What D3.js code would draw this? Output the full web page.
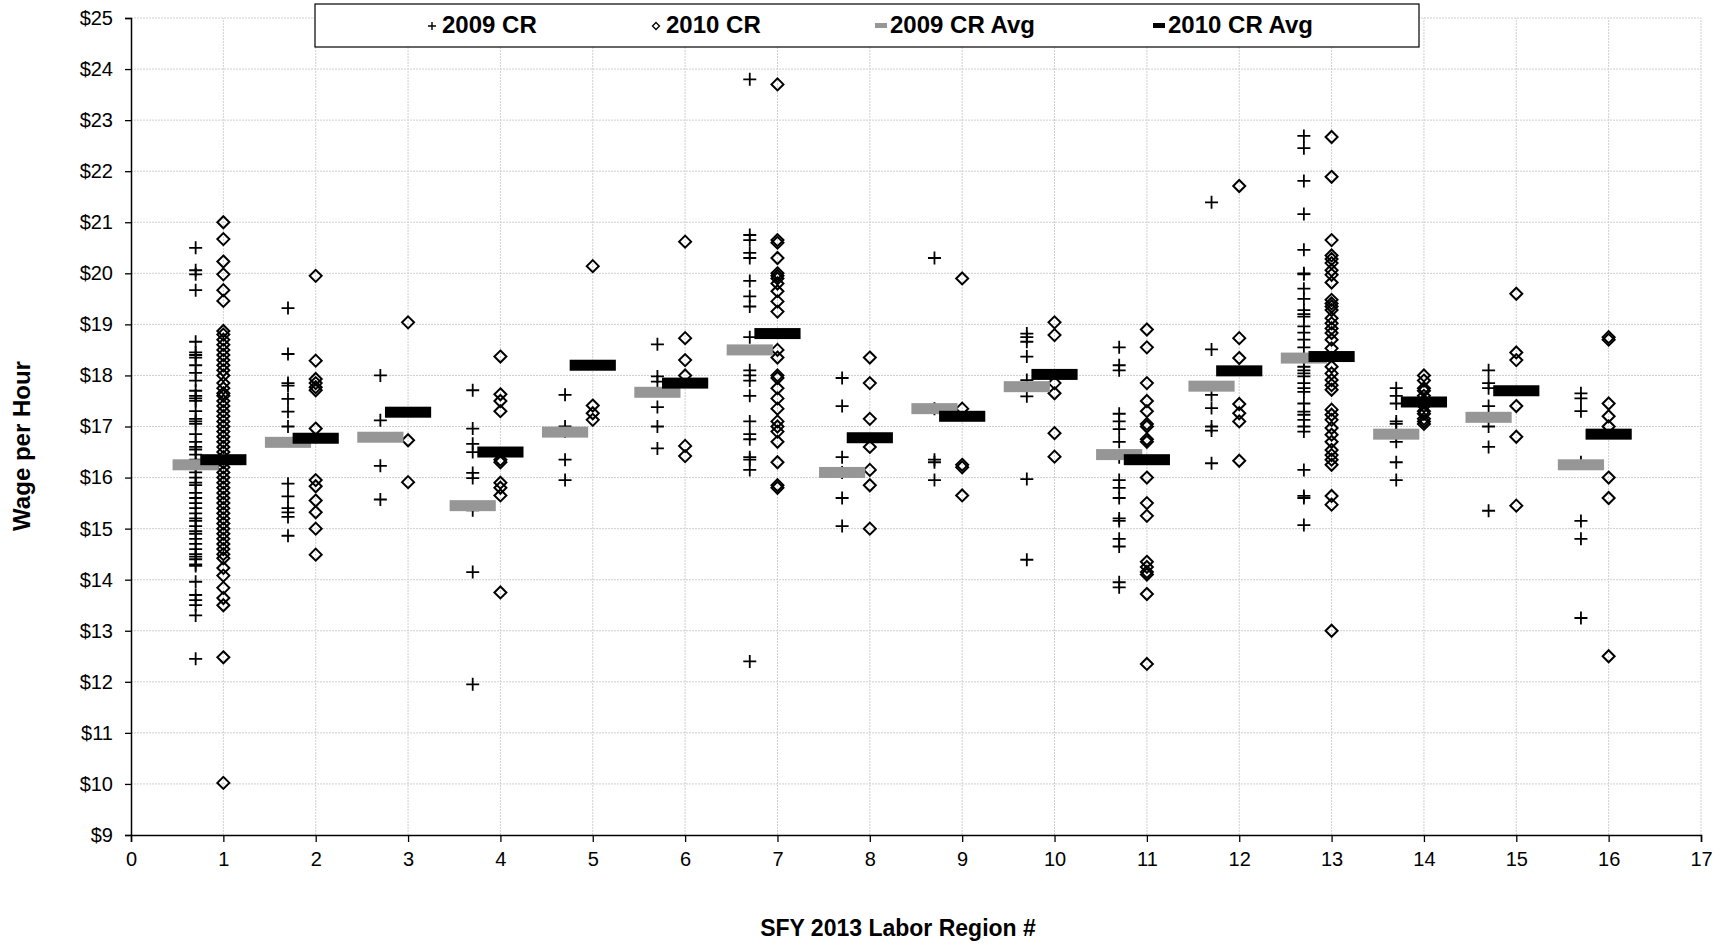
<!DOCTYPE html>
<html>
<head>
<meta charset="utf-8">
<style>
  body { margin: 0; background: #fff; }
  svg text { font-family: Arial, "Liberation Sans", sans-serif; fill: #000; }
</style>
</head>
<body>
<div id="viz"></div>
<script src="https://d3js.org/d3.v7.min.js"></script>
<script>

// regions 1..16, 2009 points sit 0.3 to the left of the region
const regions = d3.range(1, 17);

const cr2009 = [
  [20.5, 20.06, 19.98, 19.67, 18.66, 18.45, 18.4, 18.35, 18.2, 18.05, 17.9, 17.7, 17.6, 17.55, 17.5, 17.3, 17.15, 17.1, 17.05, 16.85, 16.7, 16.6, 16.55, 16.45, 16.35, 16.25, 16.1, 16.0, 15.9, 15.85, 15.7, 15.6, 15.5, 15.4, 15.3, 15.2, 15.15, 15.05, 14.95, 14.9, 14.8, 14.7, 14.6, 14.5, 14.45, 14.4, 14.3, 14.27, 13.96, 13.7, 13.6, 13.5, 13.3, 12.45],
  [19.32, 18.42, 17.85, 17.8, 17.54, 17.29, 17.0, 15.88, 15.63, 15.4, 15.32, 15.23, 14.86],
  [18.0, 17.12, 16.23, 15.57],
  [17.71, 16.96, 16.66, 16.5, 16.09, 15.99, 15.36, 14.15, 11.95],
  [17.62, 17.0, 16.9, 16.35, 15.95],
  [18.61, 17.98, 17.88, 17.38, 17.0, 16.57],
  [23.8, 20.75, 20.65, 20.4, 20.3, 19.85, 19.55, 19.35, 18.75, 18.1, 18.0, 17.9, 17.6, 17.1, 16.85, 16.75, 16.4, 16.35, 16.15, 12.4],
  [17.95, 17.4, 16.4, 16.1, 15.6, 15.05],
  [20.3, 17.35, 16.35, 16.3, 15.95],
  [18.82, 18.75, 18.66, 18.37, 17.91, 17.59, 15.97, 14.39],
  [18.55, 18.2, 18.1, 17.25, 17.1, 16.95, 16.7, 16.4, 15.95, 15.8, 15.6, 15.2, 15.15, 14.8, 14.65, 13.95, 13.85],
  [21.39, 18.51, 17.62, 17.36, 17.0, 16.92, 16.28],
  [22.69, 22.45, 21.81, 21.16, 20.46, 20.0, 19.98, 19.7, 19.5, 19.28, 19.2, 19.15, 18.96, 18.84, 18.7, 18.55, 18.17, 18.1, 18.04, 17.98, 17.85, 17.75, 17.68, 17.45, 17.29, 17.23, 17.13, 17.0, 16.9, 16.15, 15.64, 15.6, 15.07],
  [17.75, 17.6, 17.45, 17.1, 17.05, 16.85, 16.7, 16.3, 15.95],
  [18.1, 17.85, 17.75, 17.4, 17.0, 16.6, 15.35],
  [17.65, 17.55, 17.3, 16.3, 15.15, 14.8, 13.25]
];

const cr2010 = [
  [21.0, 20.67, 20.23, 19.98, 19.67, 19.46, 18.87, 18.8, 18.7, 18.6, 18.5, 18.4, 18.3, 18.2, 18.1, 18.0, 17.85, 17.75, 17.65, 17.6, 17.5, 17.4, 17.3, 17.2, 17.1, 17.0, 16.9, 16.8, 16.7, 16.6, 16.5, 16.4, 16.3, 16.2, 16.1, 16.0, 15.9, 15.8, 15.7, 15.6, 15.5, 15.4, 15.3, 15.2, 15.1, 15.0, 14.9, 14.8, 14.7, 14.6, 14.5, 14.42, 14.23, 14.08, 13.84, 13.64, 13.5, 12.48, 10.02],
  [19.95, 18.29, 17.93, 17.85, 17.77, 17.71, 16.96, 15.95, 15.83, 15.55, 15.32, 15.0, 14.49],
  [19.04, 16.73, 15.91],
  [18.37, 17.63, 17.5, 17.3, 16.35, 16.3, 15.9, 15.8, 15.65, 13.75],
  [20.14, 17.41, 17.26, 17.13],
  [20.62, 18.73, 18.3, 18.0, 16.62, 16.42],
  [23.7, 20.65, 20.6, 20.3, 20.0, 19.95, 19.9, 19.8, 19.65, 19.45, 19.25, 18.5, 18.35, 18.0, 17.95, 17.75, 17.55, 17.35, 17.1, 17.0, 16.9, 16.7, 16.3, 15.85, 15.8],
  [18.35, 17.85, 17.15, 16.6, 16.15, 15.85, 15.0],
  [19.9, 17.35, 16.25, 16.2, 15.65],
  [19.04, 18.79, 17.85, 17.65, 16.87, 16.41],
  [18.9, 18.55, 17.85, 17.5, 17.3, 17.05, 17.0, 16.75, 16.7, 16.0, 15.5, 15.25, 14.35, 14.25, 14.15, 14.1, 13.72, 12.35],
  [21.71, 18.73, 18.34, 17.44, 17.26, 17.1, 16.33],
  [22.67, 21.89, 20.65, 20.35, 20.28, 20.2, 20.06, 19.97, 19.82, 19.48, 19.41, 19.35, 19.28, 19.12, 19.02, 18.92, 18.83, 18.7, 18.53, 18.17, 18.04, 17.91, 17.81, 17.72, 17.33, 17.23, 17.13, 16.97, 16.84, 16.7, 16.54, 16.44, 16.35, 16.25, 15.64, 15.47, 13.0],
  [18.0, 17.9, 17.75, 17.7, 17.6, 17.5, 17.4, 17.3, 17.25, 17.15, 17.1, 17.05],
  [19.6, 18.45, 18.3, 17.4, 16.8, 15.45],
  [18.75, 18.7, 17.45, 17.2, 17.0, 16.0, 15.6, 12.5]
];

const avg2009 = [16.25, 16.69, 16.79, 15.45, 16.89, 17.67, 18.5, 16.1, 17.35, 17.78, 16.45, 17.79, 18.34, 16.85, 17.18, 16.25];
const avg2010 = [16.35, 16.77, 17.28, 16.5, 18.2, 17.85, 18.82, 16.78, 17.2, 18.02, 16.35, 18.09, 18.37, 17.48, 17.7, 16.85];

const xTicks = d3.range(0, 18);
const yTicks = d3.range(9, 26);
const legendLabels = ["2009 CR", "2010 CR", "2009 CR Avg", "2010 CR Avg"];

const width = 1726,
      height = 946;

const svg = d3.select("#viz").append("svg")
    .attr("width", width)
    .attr("height", height);

const x = d3.scaleLinear().domain([0, 17]).range([131, 1701]),
      y = d3.scaleLinear().domain([9, 25]).range([835, 18]);

// gridlines
svg.append("g").selectAll("line")
    .data(xTicks.slice(1))
  .enter().append("line")
    .attr("x1", d => x(d)).attr("x2", d => x(d))
    .attr("y1", y(9)).attr("y2", y(25))
    .attr("stroke", "#cfcfcf")
    .attr("stroke-dasharray", "2,1");

svg.append("g").selectAll("line")
    .data(yTicks.slice(1))
  .enter().append("line")
    .attr("x1", x(0)).attr("x2", x(17))
    .attr("y1", d => y(d)).attr("y2", d => y(d))
    .attr("stroke", "#cfcfcf")
    .attr("stroke-dasharray", "2,1");

// axes
const yAxis = svg.append("g")
    .attr("transform", `translate(${x(0)},0)`)
    .call(d3.axisLeft(y).tickValues(yTicks).tickFormat(d => "$" + d).tickSize(6).tickPadding(12));

const xAxis = svg.append("g")
    .attr("transform", `translate(0,${y(9)})`)
    .call(d3.axisBottom(x).tickValues(xTicks).tickSize(7).tickPadding(10));

[xAxis, yAxis].forEach(a => {
  a.selectAll("text").attr("font-size", 20).attr("font-family", "Arial, 'Liberation Sans', sans-serif");
  a.select(".domain").attr("stroke", "#000").attr("stroke-width", 1.5);
  a.selectAll(".tick line").attr("stroke", "#000").attr("stroke-width", 1.3);
});

// points
const pts2009 = regions.flatMap((r, i) => cr2009[i].map(v => ({ r: r - 0.3, v })));
const pts2010 = regions.flatMap((r, i) => cr2010[i].map(v => ({ r: r, v })));

svg.append("g").selectAll("path")
    .data(pts2009)
  .enter().append("path")
    .attr("transform", d => `translate(${x(d.r)},${y(d.v)})`)
    .attr("d", "M-6.5,0H6.5M0,-6.5V6.5")
    .attr("stroke", "#000")
    .attr("stroke-width", 1.8);

svg.append("g").selectAll("path")
    .data(pts2010)
  .enter().append("path")
    .attr("transform", d => `translate(${x(d.r)},${y(d.v)})`)
    .attr("d", "M0,-6L6,0L0,6L-6,0Z")
    .attr("fill", "none")
    .attr("stroke", "#000")
    .attr("stroke-width", 2);

// averages
const barW = x(0.5) - x(0),
      barH = 11;

svg.append("g").selectAll("rect")
    .data(regions)
  .enter().append("rect")
    .attr("x", (r, i) => x(r - 0.3) - barW / 2)
    .attr("y", (r, i) => y(avg2009[i]) - barH / 2)
    .attr("width", barW)
    .attr("height", barH)
    .attr("fill", "#969696");

svg.append("g").selectAll("rect")
    .data(regions)
  .enter().append("rect")
    .attr("x", r => x(r) - barW / 2)
    .attr("y", (r, i) => y(avg2010[i]) - barH / 2)
    .attr("width", barW)
    .attr("height", barH)
    .attr("fill", "#000");

// axis titles
svg.append("text")
    .attr("x", 898)
    .attr("y", 936)
    .attr("text-anchor", "middle")
    .attr("font-size", 23)
    .attr("font-weight", "bold")
    .text("SFY 2013 Labor Region #");

svg.append("text")
    .attr("transform", "translate(30,446) rotate(-90)")
    .attr("text-anchor", "middle")
    .attr("font-size", 24)
    .attr("font-weight", "bold")
    .text("Wage per Hour");

// legend
const legend = svg.append("g");

legend.append("rect")
    .attr("x", 315).attr("y", 4)
    .attr("width", 1104).attr("height", 43)
    .attr("fill", "#fff")
    .attr("stroke", "#000")
    .attr("stroke-width", 1.2);

const legendX = [432, 656, 881, 1159];

legend.selectAll("text")
    .data(legendLabels)
  .enter().append("text")
    .attr("x", (d, i) => legendX[i] + (i < 2 ? 10 : 9))
    .attr("y", 25)
    .attr("dy", "0.35em")
    .attr("font-size", 24)
    .attr("font-weight", "bold")
    .text(d => d);

legend.append("path")
    .attr("transform", `translate(${legendX[0]},26)`)
    .attr("d", "M-4,0H4M0,-4V4")
    .attr("stroke", "#000").attr("stroke-width", 1.4);

legend.append("path")
    .attr("transform", `translate(${legendX[1]},26)`)
    .attr("d", "M0,-3.5L3.5,0L0,3.5L-3.5,0Z")
    .attr("fill", "none")
    .attr("stroke", "#000").attr("stroke-width", 1.3);

legend.append("rect")
    .attr("x", legendX[2] - 6).attr("y", 23)
    .attr("width", 12).attr("height", 5)
    .attr("fill", "#969696");

legend.append("rect")
    .attr("x", legendX[3] - 6).attr("y", 23)
    .attr("width", 12).attr("height", 5)
    .attr("fill", "#000");

</script>
</body>
</html>
